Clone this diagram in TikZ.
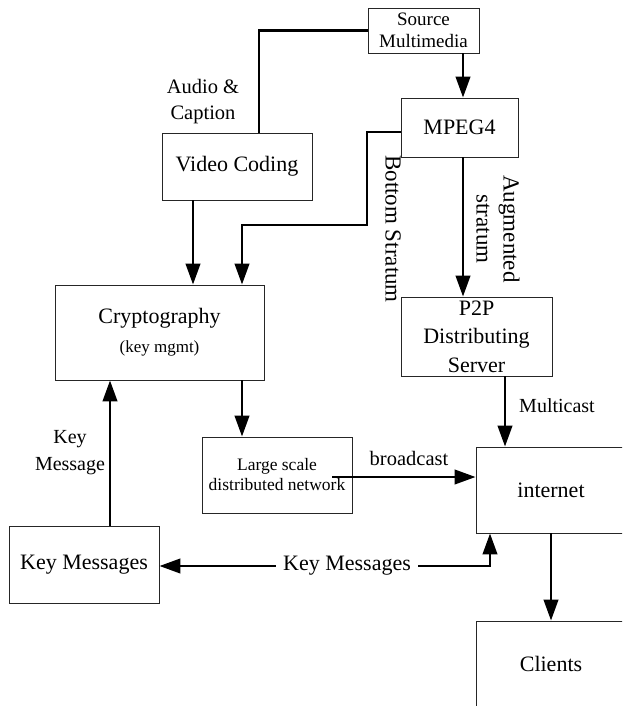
\documentclass[tikz,border=0pt]{standalone}
\usepackage{fontspec}
\setmainfont{Liberation Serif}
\usetikzlibrary{arrows.meta,calc}

\tikzset{
  box/.style={draw=black!85, line width=0.9pt, align=center, inner sep=0pt},
  conn/.style={line width=2.6pt, line join=miter},
  arr/.style={conn, -{Triangle[length=21pt,width=14.5pt]}},
  big/.style={font=\fontsize{22}{28}\selectfont},
  lbl/.style={align=center, inner sep=0pt, font=\fontsize{20.5}{26}\selectfont},
}

\begin{document}
\begin{tikzpicture}[x=1pt,y=-1pt]
  \fill[white] (0,0) rectangle (622,706);
  \clip (0,0) rectangle (622,706);

  % boxes
  \node[box, minimum width=111pt, minimum height=45pt, font=\fontsize{19}{22}\selectfont] (src) at (423.5,30.5) {Source\\Multimedia};
  \node[box, minimum width=117pt, minimum height=59pt, big] (mpeg) at (459.5,127.5) {MPEG4};
  \node[box, minimum width=150pt, minimum height=67pt, big] (vc) at (237,166.5) {Video Coding};
  \node[box, minimum width=209pt, minimum height=95pt, font=\fontsize{22}{29}\selectfont] (crypto) at (159.5,332.5)
    {Cryptography\\{\fontsize{17}{29}\selectfont (key mgmt)}};
  \node[box, minimum width=151pt, minimum height=79pt, font=\fontsize{22}{28.5}\selectfont] (p2p) at (476.5,336.5) {P2P\\Distributing\\Server};
  \node[box, minimum width=150pt, minimum height=76pt, font=\fontsize{17.5}{20}\selectfont] (lsn) at (277,475) {Large scale\\distributed network};
  \node[box, minimum width=150pt, minimum height=77pt, big] (km) at (84,564.5) {Key Messages};
  \node[box, minimum width=150pt, minimum height=86pt, big] (inet) at (551,490) {internet};
  \node[box, minimum width=150pt, minimum height=86pt, big] (cli) at (551,664) {Clients};

  % labels
  \node[lbl] (lac) at (203,102) {Audio \&\\Caption};
  \node[lbl, rotate=-90, font=\fontsize{23}{27}\selectfont] (lbs) at (393,229) {Bottom Stratum};
  \node[lbl, rotate=-90, font=\fontsize{23}{27}\selectfont] (las) at (498,229) {Augmented\\stratum};
  \node[lbl, font=\fontsize{20}{26}\selectfont] (lmc) at (557,406) {Multicast};
  \node[lbl] (lbc) at (409,458) {broadcast};
  \node[lbl, font=\fontsize{20}{27}\selectfont] (lkm) at (70,453) {Key\\Message};
  \node[big, inner sep=0pt, inner xsep=7pt] (kml) at (347,566) {Key Messages};

  % column and row guides for the connectors
  \coordinate (xA) at (463,0);
  \coordinate (xV) at (193,0);
  \coordinate (xB) at (242,0);
  \coordinate (xS) at (259,0);
  \coordinate (xM) at (505,0);
  \coordinate (xK) at (110,0);
  \coordinate (xI) at (490,0);
  \coordinate (xT) at (367,0);
  \coordinate (yT) at (0,132);
  \coordinate (yB) at (0,225);
  \coordinate (bcs) at (332,477);

  % connectors
  \draw[conn] (src.west) -| (vc.north -| xS);
  \draw[arr] (src.south -| xA) -- (mpeg.north -| xA);
  \draw[arr] (vc.south -| xV) -- (crypto.north -| xV);
  \draw[arr] (mpeg.west |- yT) -| (xT |- yB) -| (crypto.north -| xB);
  \draw[arr] (mpeg.south -| xA) -- (p2p.north -| xA);
  \draw[arr] (crypto.south -| xB) -- (lsn.north -| xB);
  \draw[arr] (km.north -| xK) -- (crypto.south -| xK);
  \draw[arr] (p2p.south -| xM) -- (inet.north -| xM);
  \draw[arr] (bcs) -- (inet.west |- bcs);
  \draw[arr] (inet.south) -- (cli.north);
  \draw[arr] (kml.west) -- (kml.west -| km.east);
  \draw[arr] (kml.east) -| (inet.south -| xI);
\end{tikzpicture}
\end{document}
